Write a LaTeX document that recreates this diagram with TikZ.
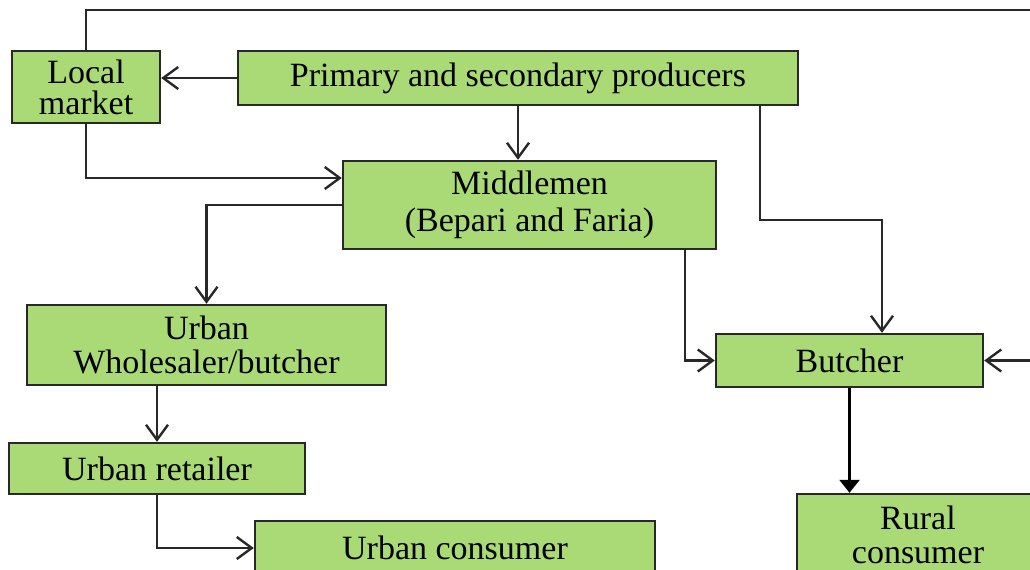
\documentclass[tikz,border=0pt]{standalone}
\usepackage{fontspec}
\setmainfont{Liberation Serif}
\usepackage{tikz}
\usetikzlibrary{arrows.meta, positioning, calc}
\definecolor{boxgreen}{RGB}{170, 218, 118}
\definecolor{edgegray}{RGB}{40, 40, 40}

\begin{document}
\begin{tikzpicture}[x=0.5pt, y=-0.5pt, line width=1.2pt,
    flowbox/.style={draw=edgegray, fill=boxgreen, align=center, inner sep=0pt, font=\fontsize{17}{17}\selectfont},
    flow/.style={-{Straight Barb[length=7.5pt, width=11pt]}, draw=edgegray},
    solidflow/.style={-{Triangle[length=6.5pt, width=10pt]}, draw=black}]
    \useasboundingbox (0,0) rectangle (1030,569);

    % Boxes (centres in pixels of the page)
    \node[flowbox, minimum width=74pt, minimum height=36pt, font=\fontsize{17}{15.5}\selectfont] (local) at (86,87) {Local\\market};
    \node[flowbox, minimum width=280pt, minimum height=27pt] (prod) at (518,78) {Primary and secondary producers};
    \node[flowbox, minimum width=186.5pt, minimum height=44pt, font=\fontsize{17}{18.5}\selectfont] (mid) at (529.5,205) {Middlemen\\(Bepari and Faria)};
    \node[flowbox, minimum width=179.5pt, minimum height=40pt] (whole) at (206.5,345) {Urban\\Wholesaler/butcher};
    \node[flowbox, minimum width=148pt, minimum height=25.5pt] (retail) at (157,468.5) {Urban retailer};
    \node[flowbox, minimum width=200pt, minimum height=27pt] (ucons) at (455,548) {Urban consumer};
    \node[flowbox, minimum width=133.5pt, minimum height=26.5pt] (butcher) at (849.5,360.5) {Butcher};
    \node[flowbox, minimum width=121pt, minimum height=41pt] (rural) at (918,535) {Rural\\consumer};

    % Bend points
    \coordinate (topleft) at (86,10);
    \coordinate (topright) at (1040,10);
    \coordinate (localbend) at (86,178);
    \coordinate (prodx) at (760,0);
    \coordinate (butchx) at (882,220);
    \coordinate (midx) at (685,0);

    % Draw connectors
    \draw[flow] (local.north) -- (topleft) -- (topright) |- (butcher.east);
    \draw[flow] (prod.west) -- (prod.west -| local.east);
    \draw[flow] (prod.south) -- (prod.south |- mid.north);
    \draw[flow] (local.south) -- (localbend) -- (localbend -| mid.west);
    \draw[flow] (prod.south -| prodx) |- (butchx) -- (butchx |- butcher.north);
    \draw[flow] (mid.west) -| (whole.north);
    \draw[flow] (mid.south -| midx) |- (butcher.west);
    \draw[flow] (retail.north |- whole.south) -- (retail.north);
    \draw[flow] (retail.south) |- (ucons.west);
    \draw[solidflow] (butcher.south) -- (butcher.south |- rural.north);
\end{tikzpicture}
\end{document}
